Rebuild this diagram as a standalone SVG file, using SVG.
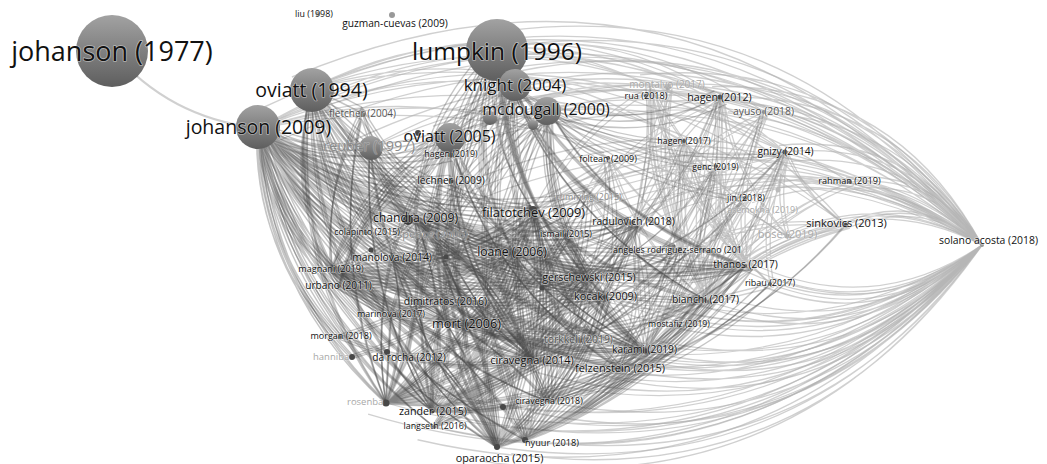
<svg xmlns="http://www.w3.org/2000/svg" width="1047" height="464" viewBox="0 0 1047 464">
<defs>
<linearGradient id="gn" x1="0" y1="0" x2="0" y2="1">
<stop offset="0" stop-color="#a2a2a2"/>
<stop offset="1" stop-color="#5e5e5e"/>
</linearGradient>
<style>
.c1{fill:none;stroke:#4a4a4a;stroke-opacity:0.32;stroke-width:1.4}
.c2{fill:none;stroke:#6a6a6a;stroke-opacity:0.36;stroke-width:1.3}
.c3{fill:none;stroke:#b0b0b0;stroke-opacity:0.6;stroke-width:1.3}
.big{fill:url(#gn)}
.dot{fill:#484848}
.lb{font-family:"Open Sans","Noto Sans","DejaVu Sans",sans-serif;fill:#111;text-anchor:middle;stroke:#fff;stroke-opacity:0.45;stroke-width:1.6;paint-order:stroke;stroke-linejoin:round}
.ls{text-anchor:start}
.lt{fill:#8c8c8c;stroke-opacity:0.25}
.lf{fill:#a8a8a8;stroke-opacity:0.25}
.lg{fill:#555}
</style>
</defs>
<rect width="1047" height="464" fill="#fff"/>
<g id="connectors">
<g class="c3">
<path id="sol" d="M982 245Q661.5 -66.5 259 128M982 245Q702 -68 312 88M982 245Q798.5 1 497 48M982 245Q796 25 514 86M982 245Q806 47.6 549 110M982 245Q748.8 29.6 449 134M982 245Q863.7 65.9 650 86M982 245Q895.4 92.4 720 97M982 245Q911.4 139.4 785 152M982 245Q920 194 846 225M982 245Q886.75 191.75 787 236M982 245Q768 92.8 533 210M982 245Q814.4 128.8 633 222M982 245Q877.6 150.4 745 198M982 245Q708 -5.5 370 148M982 245Q706.6 61.4 415 218M982 245Q745.1 108.3 513 253M982 245Q934.9 173.9 850 182M982 245Q869.8 326.6 745 266M982 245Q887.7 328.1 770 284M982 245Q860 355.6 705 300M982 245Q845.3 399.1 645 351M982 245Q838.2 415.6 620 369M982 245Q812.1 453.7 548 402M982 245Q812 479.6 525 440M982 245Q800.1 491.5 497 447M982 245Q756.8 493 432 411M982 245Q747.7 439.3 466 324M982 245Q791.2 437 532 359M982 245Q809.1 384.1 605 297M982 245Q794.6 379.2 588 277M982 245Q731.4 502.8 386 403M982 245Q808 414 577 340M982 245Q762.6 500.4 434 427"/>
<use href="#sol" transform="translate(982 245) scale(1.03 1.07) translate(-982 -245)"/>
<use href="#sol" transform="translate(982 245) scale(0.97 0.9) translate(-982 -245)"/>
<path id="top" d="M259 128Q481.75 -2.75 720 97M259 128Q528 8.5 785 152M259 128Q576.75 29.75 846 225M259 128Q507.5 -6.25 764 112M259 128Q568 7.25 850 182M312 88Q518.25 -9.5 720 97M312 88Q564.5 1.75 785 152M312 88Q613.25 23 846 225M312 88Q480.5 2.5 650 86M312 88Q533.5 26 716 166M259 128Q474.75 28.25 684 141M259 128Q439.5 73.2 608 158M259 128Q516 65.8 745 198M259 128Q544.6 76.4 787 236M497 48Q618.3 27.9 720 97M497 48Q661.8 42.4 785 152M497 48Q706.9 66.7 846 225M497 48Q643.3 26.6 764 112M449 134Q577.1 61.3 720 97M449 134Q620.6 75.8 785 152M370 148Q534.8 52.5 720 97"/>
<path d="M112 51Q170.1 118.9 259 128" stroke-width="2"/>
<path id="rc" d="M720 97Q707.2 185.3 745 266M720 97Q682 196.3 705 300M720 97Q677.2 167 680 249M720 97Q657.8 146.5 633 222M720 97Q639.2 126.7 588 196M720 97Q732.6 176.6 787 236M650 86Q670.5 190.3 745 266M650 86Q645.4 201.3 705 300M650 86Q640.6 172 680 249M650 86Q572.9 130.5 533 210M650 86Q696 181.6 787 236M650 86Q680.3 203 770 284M668 86Q649.6 169.3 680 249M668 86Q654.4 198.6 705 300M668 86Q616.8 215 645 351M785 152Q747.9 203 745 266M785 152Q722.8 214 705 300M785 152Q718 184.8 680 249M785 152Q698.5 164.2 633 222M785 152Q757.7 215.8 770 284M785 152Q773.4 194.3 787 236M785 152Q804.5 197.7 846 225M764 112Q731.4 186.2 745 266M764 112Q706.3 197.2 705 300M764 112Q682 147.4 633 222M764 112Q668.7 213.7 645 351M684 141Q695.8 212.7 745 266M684 141Q670.7 223.7 705 300M684 141Q665.8 194.4 680 249M684 141Q598.2 152.9 533 210M684 141Q705.6 225.4 770 284M716 166Q715.5 220.4 745 266M716 166Q690.4 231.4 705 300M716 166Q617.9 160.6 533 210M745 198Q709.7 243 705 300M745 198Q672 259.5 645 351M745 198Q704.9 213.8 680 249M608 158Q660.3 232.6 745 266M608 158Q635.2 243.6 705 300M608 158Q539.9 247.1 532 359M588 196Q630.9 265.6 705 300M588 196Q656 254.6 745 266M787 236Q736.4 255.7 705 300M787 236Q698.8 272.2 645 351M846 225Q789.4 230.4 745 266M846 225Q764.3 241.4 705 300M846 225Q726.6 257.9 645 351M846 225Q759.4 212.1 680 249M850 182Q722.2 235.8 645 351M850 182Q759.8 219.3 705 300M762 210Q720 246.5 705 300M770 284L705 300M679 326Q721.5 251.6 716 166M679 326Q758.1 254.9 785 152M679 326Q733.9 217.7 720 97"/>
<use href="#rc" transform="translate(4 3)"/>
</g>
<g class="c2">
<path id="mid" d="M588 277Q570.6 235.3 533 210M588 277Q615.9 220.5 608 158M588 277Q668.7 240.7 716 166M588 277Q668.2 295.1 745 266M588 277Q638.2 276.8 680 249M588 277Q656.4 223.4 684 141M588 277Q681 206.8 720 97M588 277Q705.3 244.1 785 152M605 297Q582 242.7 533 210M605 297Q630.3 263.7 633 222M605 297Q627.4 228 608 158M605 297Q659.2 198.3 650 86M605 297Q680.2 248.2 716 166M605 297Q654.6 313.5 705 300M605 297Q689.9 268.5 745 198M645 351Q658.4 284.7 633 222M645 351Q610.2 263.7 533 210M645 351Q708.3 269.2 716 166M645 351Q744.9 272.5 785 152M645 351Q707.8 323.5 745 266M645 351Q677.8 305.3 680 249M645 351L679 326M645 351Q720.6 235.3 720 97M620 369Q686.2 264.6 684 141M620 369Q648.6 297.5 633 222M620 369Q672.9 347.3 705 300M620 369Q754.6 330.9 846 225M620 369Q730.6 262.1 764 112M620 369Q707.8 349 770 284M577 340Q574.5 268.4 533 210M577 340Q672.1 328.2 745 266M577 340Q682.3 294.2 745 198M514 86Q590.8 139 684 141M514 86Q603 156.3 716 166M549 110Q660.7 166.4 785 152M549 110Q633.8 183.4 745 198"/>
<use href="#mid" transform="translate(-4 3)"/>
</g>
<g class="c1">
<g id="core">
<path d="M259 128Q319 204.2 415 218M259 128Q291.5 201.9 366 233M259 128Q299.7 219.1 392 257M259 128Q267.3 213.1 332 269M259 128Q267.4 223 339 286M259 128Q361 241.3 513 253M259 128Q379.6 223.8 533 210M259 128Q317.7 252.4 446 302M259 128Q287.6 247.9 391 315M259 128Q323.3 267.4 466 324M259 128Q257.7 248.7 340 337M259 128Q259.7 261.1 352 357M259 128Q287.7 272.3 408 357M259 128Q349.3 298.1 532 359M259 128Q267.5 290.9 386 403M259 128Q288.9 304.1 432 411M259 128Q348.7 322.8 548 402M259 128Q286.7 312.5 434 427M259 128Q329.6 337.2 525 440M259 128Q314.2 335.1 497 447M259 128Q393.7 268.3 588 277M259 128Q398.2 281.7 605 297M259 128Q375.6 297.6 577 340M259 128Q391.3 320.7 620 369M259 128Q407.4 316.7 645 351M259 128Q427.2 249.8 633 222M259 128Q391.1 242.9 566 235M259 128Q409.9 227.8 588 196M259 128Q344.6 192.4 451 180M259 128Q445.3 272.7 680 249M259 128Q447.6 303.2 705 300M259 128Q474.4 294.2 745 266M259 128Q352.8 169 449 134M259 128Q310.5 160.2 370 148M259 128Q349.6 179.9 451 155"/>
<path d="M312 88Q337.5 173.6 415 218M312 88Q318.2 188.5 392 257M312 88Q285.8 182.5 332 269M312 88Q379.5 210.7 513 253M312 88Q398.1 193.2 533 210M312 88Q341.8 236.8 466 324M312 88Q307.4 273.5 432 411M312 88Q286 260.3 386 403M312 88Q332.7 304.5 497 447M312 88Q367.8 267.5 532 359M312 88Q412.2 237.7 588 277M312 88Q416.7 251.1 605 297M312 88Q425.9 286.1 645 351M312 88L362 113M312 88Q285.9 192.4 339 286"/>
<path d="M497 48Q422 116.6 415 218M497 48Q464 153.7 513 253M497 48Q426.3 179.8 466 324M497 48Q452.3 210.5 532 359M497 48Q417.2 247.5 497 447M497 48Q496.7 180.7 588 277M497 48Q501.2 194.1 605 297M497 48Q482.6 136.2 533 210M497 48Q391.9 216.5 432 411M497 48Q510.4 229.1 645 351M497 48Q577.4 206.6 745 266M497 48Q550.6 215.6 705 300M514 86Q418.8 147.1 392 257M514 86Q436.8 180.4 446 302M514 86Q494.7 225.6 577 340M514 86Q467.8 250.8 548 402M514 86Q448.7 265.2 525 440M514 86Q510.4 248.7 620 369M514 86Q546.3 177.8 633 222M514 86Q386.5 151 339 286M514 86Q564.4 200.7 680 249M549 110Q408.7 146.1 332 269M549 110Q429 180.9 391 315M549 110Q429.1 205.3 408 357M549 110Q490.7 231.1 532 359M549 110Q430.3 237.1 432 411M549 110Q455.6 268.1 497 447M549 110Q535.1 201.3 588 277M549 110Q548.8 249.7 645 351M549 110Q615.8 227.2 745 266M549 110Q539.6 214.7 605 297M549 110Q568.9 145.8 608 158M549 110Q637.1 137.7 720 97M449 134Q363.5 178.1 332 269M449 134Q419.5 232.4 466 324M449 134Q363.7 255.9 386 403M449 134Q410.4 300.1 497 447M449 134Q445.5 263.1 532 359M449 134Q489.9 233.3 588 277M449 134Q487.5 285.7 620 369M449 134Q363.6 188 339 286"/>
<path d="M332 269Q441.4 269.7 533 210M332 269Q424.9 288.2 513 253M332 269Q458.8 311.4 588 277M332 269Q464.3 324 605 297M332 269Q418.5 344 532 359M332 269Q476.2 357 645 351M332 269Q489.6 290.7 633 222M332 269Q471 270.9 588 196M332 269Q381.2 256 415 218M332 269Q390.8 316.6 466 324M332 269Q509 311.2 680 249M332 269Q443.9 341.3 577 340M339 286Q431 295.6 513 253M339 286Q390.1 310 446 302M339 286Q447.4 277.1 533 210M339 286Q467 369.7 620 369"/>
<path d="M386 403Q428.3 314.9 415 218M386 403Q410.9 330.9 392 257M386 403Q472 347 513 253M386 403Q488.5 328.5 533 210M386 403Q437.9 375.5 466 324M386 403Q505.9 370.3 588 277M386 403Q511.4 382.9 605 297M386 403Q465.6 402.9 532 359M386 403Q491 400.2 577 340M386 403Q523.3 415.9 645 351M386 403Q431.2 361.5 446 302M386 403L391 315M386 403L408 357M386 403Q536.7 349.6 633 222M386 403Q501.2 346 566 235M432 411Q452.5 312 415 218M432 411Q496.2 344.2 513 253M432 411Q512.7 325.7 533 210M432 411Q530.1 367.4 588 277M432 411Q535.6 380 605 297M432 411Q547.5 413 645 351M432 411Q532.3 418.2 620 369M432 411Q455.4 358.6 446 302M432 411Q435.1 328 392 257M432 411Q560.9 346.7 633 222M432 411Q580.3 367.2 680 249M432 411Q403.3 325 332 269M434 427Q465.5 380.3 466 324M434 427Q493.2 407.7 532 359M434 427Q533.5 375.1 588 277M434 427Q516 333.4 533 210"/>
<path d="M497 447Q534.1 352.4 513 253M497 447Q550.6 333.9 533 210M497 447Q490.4 320.2 415 218M497 447Q568 375.7 588 277M497 447Q573.5 388.2 605 297M497 447Q585.4 421.2 645 351M497 447Q570.2 426.5 620 369M497 447Q441.2 333.3 332 269M497 447Q473 336.3 392 257M497 447Q598.8 354.9 633 222M497 447Q648.2 393.7 745 266M497 447Q623 404.7 705 300M497 447Q500 380.9 466 324M497 447Q442.2 342.8 339 286M525 440Q547 344.7 513 253M525 440Q563.5 326.2 533 210M525 440Q581 368 588 277M525 440Q586.5 380.5 605 297M525 440Q598.4 413.5 645 351M525 440Q631.2 367.8 680 249M525 440Q661.1 386 745 266M525 440Q503.3 312.5 415 218M525 440Q454.2 325.6 332 269M525 440Q636 397 705 300"/>
<path d="M548 402Q569.3 303.8 533 210M548 402Q552.9 322.3 513 253M548 402Q592.3 358 605 297M548 402Q641.8 374.6 705 300M548 402Q509.1 290 415 218M548 402Q460 303.1 332 269M548 402Q676.7 376.3 770 284M532 359Q554.9 284.7 533 210M532 359Q603.1 305.7 633 222M532 359Q494.7 271 415 218M532 359Q622.5 326.2 680 249M532 359Q652.5 344.5 745 266M532 359Q589.7 372 645 351M532 359Q477.3 287 392 257M532 359Q584.5 285.9 588 196M466 324Q516.6 277 533 210M466 324Q564.8 298 633 222M466 324Q534 318.8 588 277M466 324Q551.5 364.4 645 351M466 324Q456.4 263.4 415 218M466 324Q546.2 278.3 588 196M466 324Q529.4 294.5 566 235M466 324Q589.1 347.9 705 300M466 324Q519.1 348.7 577 340"/>
<path d="M415 218Q492.6 273.5 588 277M415 218Q498.2 286 605 297M415 218Q510 319 645 351M415 218Q523.4 252.7 633 222M415 218Q572.8 291.5 745 266M392 257Q487 296.4 588 277M392 257Q492.5 309 605 297M392 257Q469.6 254.7 533 210M392 257Q517.8 275.7 633 222M446 302Q520.8 310.8 588 277M446 302Q503.3 269 533 210M446 302Q538.2 356.4 645 351M408 357Q469.7 376.6 532 359M408 357Q510 344 588 277M408 357Q492.5 302.3 533 210M340 337Q432.7 376.8 532 359M340 337Q455.6 302.5 533 210M352 357Q448.1 329.2 513 253M391 315Q461.3 302.3 513 253M391 315Q500.7 338.1 605 297M366 233Q436.5 265 513 253M366 233Q470.4 288.3 588 277M513 253Q564.3 321.8 645 351M513 253Q627 294.3 745 266M533 210Q630.6 269.8 745 266M533 210Q567.9 297.3 645 351M533 210Q605.5 280.8 705 300M566 235Q588.1 304.9 645 351M451 180Q505 249 588 277M451 180Q434 320.4 497 447M451 155Q460.9 269.2 532 359M451 155Q518.6 282.1 645 351M362 113Q416.5 205.7 513 253M362 113Q330.5 261.6 386 403M362 113Q410.1 261.5 532 359M362 113Q323.6 186.5 332 269M370 148Q388.7 316.6 497 447M370 148Q419.4 277.8 532 359M370 148Q361.5 288.8 432 411M370 148Q459.7 245.2 588 277"/>
</g>
<use href="#core" transform="translate(480 300) scale(1.02 0.98) translate(-478 -297)"/>
<use href="#core" transform="translate(480 300) scale(0.985 1.015) translate(-482 -303)"/>
</g>
</g>
<g id="nodes">
<g id="n-u1"><circle cx="490" cy="118" r="7" class="big"/></g>
<g id="n-u2"><circle cx="533" cy="125" r="5" class="big"/></g>
<g id="n-u3"><circle cx="418" cy="133" r="3" class="dot"/></g>
<g id="n-u4"><circle cx="371" cy="250" r="2.5" class="dot"/></g>
<g id="n-u5"><circle cx="446" cy="257" r="2.5" class="dot"/></g>
<g id="n-u6"><circle cx="542" cy="288" r="2.5" class="dot"/></g>
<g id="n-u7"><circle cx="778" cy="190" r="2.5" fill="#bbb"/></g>
<g id="n-johanson1977"><circle cx="112" cy="51" r="36" class="big"/><text x="112" y="61" class="lb" font-size="27">johanson (1977)</text></g>
<g id="n-lumpkin1996"><circle cx="497" cy="50" r="31" class="big"/><text x="497" y="60" class="lb" font-size="24.5">lumpkin (1996)</text></g>
<g id="n-oviatt1994"><circle cx="312" cy="90" r="22" class="big"/><text x="311.5" y="97" class="lb" font-size="19.5">oviatt (1994)</text></g>
<g id="n-johanson2009"><circle cx="258" cy="127" r="22" class="big"/><text x="258.5" y="134" class="lb" font-size="19.5">johanson (2009)</text></g>
<g id="n-knight2004"><circle cx="515" cy="85" r="16" class="big"/><text x="515" y="91" class="lb" font-size="17">knight (2004)</text></g>
<g id="n-mcdougall2000"><circle cx="547" cy="111" r="14" class="big"/><text x="546" y="115" class="lb" font-size="16">mcdougall (2000)</text></g>
<g id="n-oviatt2005"><circle cx="450" cy="138" r="15" class="big"/><text x="449.5" y="142" class="lb" font-size="16">oviatt (2005)</text></g>
<g id="n-reuber1997"><circle cx="371" cy="148" r="12" class="big"/><text x="369" y="151" class="lb lt" font-size="14.6">reuber (1997)</text></g>
<g id="n-fletcher2004"><circle cx="362" cy="113" r="4" class="big"/><text x="362.5" y="117" class="lb lg" font-size="10">fletcher (2004)</text></g>
<g id="n-hagen2019"><circle cx="451" cy="155" r="2.5" class="dot"/><text x="451" y="157" class="lb" font-size="8.9">hagen (2019)</text></g>
<g id="n-lechner2009"><circle cx="451" cy="181" r="2.5" class="dot"/><text x="451" y="184" class="lb" font-size="10.2">lechner (2009)</text></g>
<g id="n-guzman2009"><circle cx="392" cy="15" r="3" fill="#999"/><text x="395" y="27" class="lb" font-size="10.2">guzman-cuevas (2009)</text></g>
<g id="n-liu1998"><circle cx="318" cy="14" r="2.5" fill="#999"/><text x="314" y="17" class="lb" font-size="8.9">liu (1998)</text></g>
<g id="n-montalvo2017"><circle cx="668" cy="87" r="3" fill="#aaa"/><text x="667" y="88" class="lb lf" font-size="10">montalvo (2017)</text></g>
<g id="n-rua2018"><circle cx="646" cy="96" r="2" class="dot"/><text x="646" y="99" class="lb" font-size="9.1">rua (2018)</text></g>
<g id="n-hagen2012"><circle cx="720" cy="97" r="2.5" class="dot"/><text x="719.5" y="101" class="lb" font-size="10.7">hagen (2012)</text></g>
<g id="n-ayuso2018"><circle cx="764" cy="112" r="2" fill="#888"/><text x="763.5" y="115" class="lb lg" font-size="10.4">ayuso (2018)</text></g>
<g id="n-hagen2017"><circle cx="684" cy="141" r="2" class="dot"/><text x="684" y="144" class="lb" font-size="8.9">hagen (2017)</text></g>
<g id="n-foltean2009"><circle cx="608" cy="158" r="2" class="dot"/><text x="608" y="162" class="lb" font-size="9">foltean (2009)</text></g>
<g id="n-genc2019"><circle cx="716" cy="166" r="2" class="dot"/><text x="715.5" y="170" class="lb" font-size="8.7">genc (2019)</text></g>
<g id="n-gnizy2014"><circle cx="785" cy="152" r="2.5" class="dot"/><text x="785.5" y="155" class="lb" font-size="10.2">gnizy (2014)</text></g>
<g id="n-rahman2019"><circle cx="850" cy="182" r="2" class="dot"/><text x="849.5" y="184" class="lb" font-size="9.2">rahman (2019)</text></g>
<g id="n-jin2018"><circle cx="745" cy="198" r="2" class="dot"/><text x="746" y="201" class="lb" font-size="8.9">jin (2018)</text></g>
<g id="n-asemokha2019"><circle cx="762" cy="210" r="2" fill="#bbb"/><text x="762.5" y="213" class="lb lf" font-size="8.9">asemokha (2019)</text></g>
<g id="n-cumming2015"><circle cx="588" cy="196" r="2" fill="#999"/><text x="588.5" y="200" class="lb lt" font-size="8.9">cumming (2015)</text></g>
<g id="n-filatotchev2009"><circle cx="533" cy="210" r="4" class="dot"/><text x="533.5" y="217" class="lb" font-size="12.9">filatotchev (2009)</text></g>
<g id="n-chandra2009"><circle cx="408" cy="220" r="5" fill="#3a3a3a"/><text x="415.5" y="222" class="lb" font-size="12.2">chandra (2009)</text></g>
<g id="n-spence2006"><circle cx="432" cy="234" r="2" fill="#999"/><text x="432.5" y="238" class="lb lt" font-size="11">spence (2006)</text></g>
<g id="n-colapinto2015"><circle cx="366" cy="233" r="2" class="dot"/><text x="367" y="235" class="lb" font-size="8.8">colapinto (2015)</text></g>
<g id="n-radulovich2018"><circle cx="633" cy="222" r="2" class="dot"/><text x="633.5" y="225" class="lb" font-size="10.3">radulovich (2018)</text></g>
<g id="n-ismail2015"><circle cx="566" cy="235" r="2" class="dot"/><text x="566" y="237" class="lb" font-size="8.9">ismail (2015)</text></g>
<g id="n-sinkovics2013"><circle cx="846" cy="225" r="2.5" class="dot"/><text x="846.5" y="227" class="lb" font-size="11">sinkovics (2013)</text></g>
<g id="n-bose2019"><circle cx="787" cy="236" r="2.5" fill="#aaa"/><text x="787.5" y="238" class="lb lf" font-size="11">bose (2019)</text></g>
<g id="n-solano2018"><circle cx="982" cy="245" r="2" fill="#999"/><text x="988.5" y="244" class="lb" font-size="10.4">solano acosta (2018)</text></g>
<g id="n-angeles"><circle cx="680" cy="249" r="2" class="dot"/><text x="613" y="253" class="lb ls" font-size="8.9">angeles rodriguez-serrano (201</text></g>
<g id="n-loane2006"><circle cx="513" cy="253" r="2.5" class="dot"/><text x="512" y="256" class="lb" font-size="12.2">loane (2006)</text></g>
<g id="n-manolova2014"><circle cx="392" cy="257" r="2" class="dot"/><text x="392" y="261" class="lb" font-size="10.3">manolova (2014)</text></g>
<g id="n-magnani2019"><circle cx="333" cy="268" r="3" class="dot"/><text x="331" y="272" class="lb" font-size="9.1">magnani (2019)</text></g>
<g id="n-urbano2011"><circle cx="339" cy="286" r="2" class="dot"/><text x="338.5" y="289" class="lb" font-size="10.2">urbano (2011)</text></g>
<g id="n-thanos2017"><circle cx="745" cy="266" r="2" class="dot"/><text x="745.5" y="268" class="lb" font-size="10.2">thanos (2017)</text></g>
<g id="n-gerschewski2015"><circle cx="588" cy="277" r="2.5" class="dot"/><text x="589" y="281" class="lb" font-size="10.6">gerschewski (2015)</text></g>
<g id="n-ribau2017"><circle cx="770" cy="284" r="2" class="dot"/><text x="770" y="286" class="lb" font-size="9">ribau (2017)</text></g>
<g id="n-dimitratos2016"><circle cx="446" cy="302" r="2" class="dot"/><text x="445.5" y="305" class="lb" font-size="10.5">dimitratos (2016)</text></g>
<g id="n-kocak2009"><circle cx="605" cy="297" r="2" class="dot"/><text x="605.5" y="300" class="lb" font-size="10.8">kocak (2009)</text></g>
<g id="n-bianchi2017"><circle cx="705" cy="300" r="2" class="dot"/><text x="705.5" y="303" class="lb" font-size="10.3">bianchi (2017)</text></g>
<g id="n-marinova2017"><circle cx="391" cy="315" r="2" class="dot"/><text x="391" y="317" class="lb" font-size="9">marinova (2017)</text></g>
<g id="n-mort2006"><circle cx="466" cy="324" r="2.5" class="dot"/><text x="466.5" y="328" class="lb" font-size="12.7">mort (2006)</text></g>
<g id="n-morgan2018"><circle cx="340" cy="337" r="2" class="dot"/><text x="341" y="339" class="lb" font-size="9">morgan (2018)</text></g>
<g id="n-mostafiz2019"><circle cx="679" cy="326" r="2" class="dot"/><text x="679" y="327" class="lb" font-size="8.7">mostafiz (2019)</text></g>
<g id="n-torkkeli2019"><circle cx="577" cy="340" r="2" class="dot"/><text x="578.5" y="343" class="lb lg" font-size="10.4">torkkeli (2019)</text></g>
<g id="n-hanniba"><circle cx="352" cy="357" r="3" class="dot"/><text x="313" y="360" class="lb ls lf" font-size="9.5">hanniba</text></g>
<g id="n-darocha2012"><circle cx="387" cy="352" r="3" class="dot"/><text x="409" y="361" class="lb" font-size="10.2">da rocha (2012)</text></g>
<g id="n-ciravegna2014"><circle cx="532" cy="359" r="2.5" class="dot"/><text x="532" y="364" class="lb" font-size="11">ciravegna (2014)</text></g>
<g id="n-karami2019"><circle cx="645" cy="351" r="2.5" class="dot"/><text x="644.5" y="353" class="lb" font-size="10.2">karami (2019)</text></g>
<g id="n-felzenstein2015"><circle cx="620" cy="369" r="2.5" class="dot"/><text x="620" y="372" class="lb" font-size="11">felzenstein (2015)</text></g>
<g id="n-rosenba"><circle cx="386" cy="403" r="3.5" class="dot"/><text x="347" y="405" class="lb ls lf" font-size="9.5">rosenba</text></g>
<g id="n-zander2015"><circle cx="432" cy="411" r="2.5" class="dot"/><text x="433" y="415" class="lb" font-size="10.7">zander (2015)</text></g>
<g id="n-langseth2016"><circle cx="434" cy="427" r="2" class="dot"/><text x="435" y="429" class="lb" font-size="8.9">langseth (2016)</text></g>
<g id="n-ciravegna2018"><circle cx="503" cy="407" r="3" class="dot"/><text x="549" y="404" class="lb" font-size="8.9">ciravegna (2018)</text></g>
<g id="n-nyuur2018"><circle cx="525" cy="440" r="3" class="dot"/><text x="552" y="446" class="lb" font-size="9.2">nyuur (2018)</text></g>
<g id="n-oparaocha2015"><circle cx="497" cy="447" r="3" class="dot"/><text x="499.5" y="462" class="lb" font-size="10.8">oparaocha (2015)</text></g>
</g>
</svg>
